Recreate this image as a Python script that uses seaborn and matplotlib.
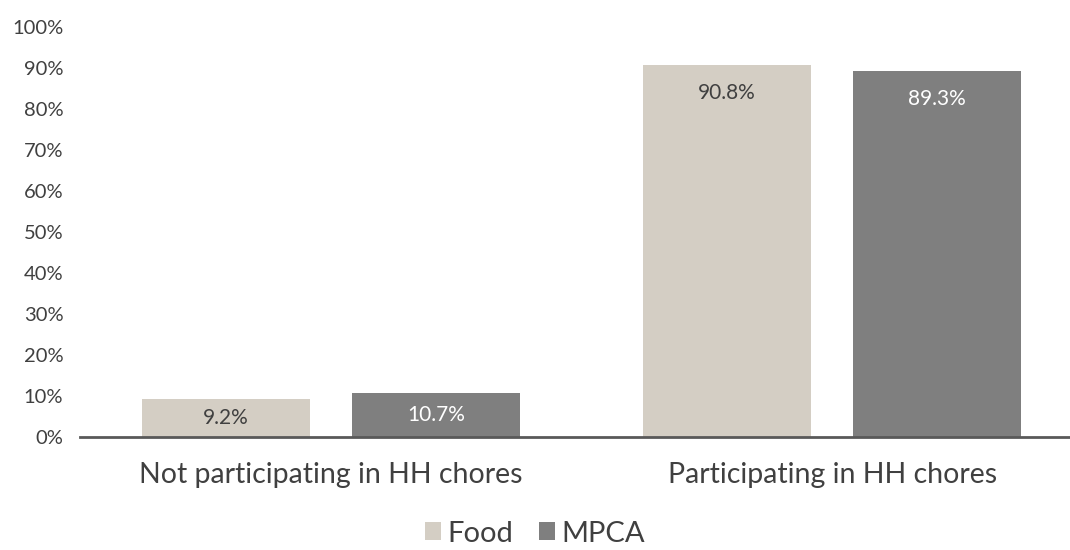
import matplotlib
matplotlib.use("Agg")
import matplotlib.pyplot as plt
import seaborn as sns
import pandas as pd
from matplotlib.patches import Patch

categories = ["Not participating in HH chores", "Participating in HH chores"]
series_names = ["Food", "MPCA"]
food_values = [9.2, 90.8]
mpca_values = [10.7, 89.3]
y_ticks = [0, 10, 20, 30, 40, 50, 60, 70, 80, 90, 100]

colors = {"Food": "#D4CEC4", "MPCA": "#7F7F7F"}
label_colors = {"Food": "#404040", "MPCA": "#FFFFFF"}

df = pd.DataFrame({
    "category": categories * 2,
    "series": ["Food"] * len(categories) + ["MPCA"] * len(categories),
    "value": food_values + mpca_values,
})

sns.set_theme(style="white")
plt.rcParams["font.family"] = ["Lato", "DejaVu Sans"]

fig = plt.figure(figsize=(10.7, 5.5), dpi=100)
ax = fig.add_axes([80 / 1070, 113 / 550, 1003 / 1070, 410 / 550])

sns.barplot(data=df, x="category", y="value", hue="series", order=categories,
            hue_order=series_names, palette=colors, width=0.838, gap=0.2,
            saturation=1, linewidth=0, ax=ax, legend=False)

ax.set_ylim(0, 100)
ax.set_xlim(-0.5, 1.5)
ax.set_yticks(y_ticks)
ax.set_yticklabels([f"{t}%" for t in y_ticks], fontsize=14.5, color="#404040")
ax.tick_params(axis="y", length=0, pad=12)
ax.tick_params(axis="x", length=0, pad=18, labelsize=20.5, labelcolor="#404040")
ax.set_xlabel("")
ax.set_ylabel("")
for side in ["top", "right", "left"]:
    ax.spines[side].set_visible(False)
ax.spines["bottom"].set_color("#595959")
ax.spines["bottom"].set_linewidth(2)

# value labels inside the bar ends
for container, name in zip(ax.containers, series_names):
    for bar in container:
        v = bar.get_height()
        y = max(v - 6.9, v / 2)
        ax.text(bar.get_x() + bar.get_width() / 2, y, f"{v:.1f}%",
                ha="center", va="center", fontsize=15, color=label_colors[name])

handles = [Patch(facecolor=colors[n], edgecolor="none") for n in series_names]
fig.legend(handles, series_names, loc="center", bbox_to_anchor=(0.5, 0.03),
           ncol=2, frameon=False, fontsize=21, handlelength=0.55, handleheight=0.55,
           handletextpad=0.2, columnspacing=0.9, labelcolor="#404040")

fig.savefig("out.png", dpi=100)
